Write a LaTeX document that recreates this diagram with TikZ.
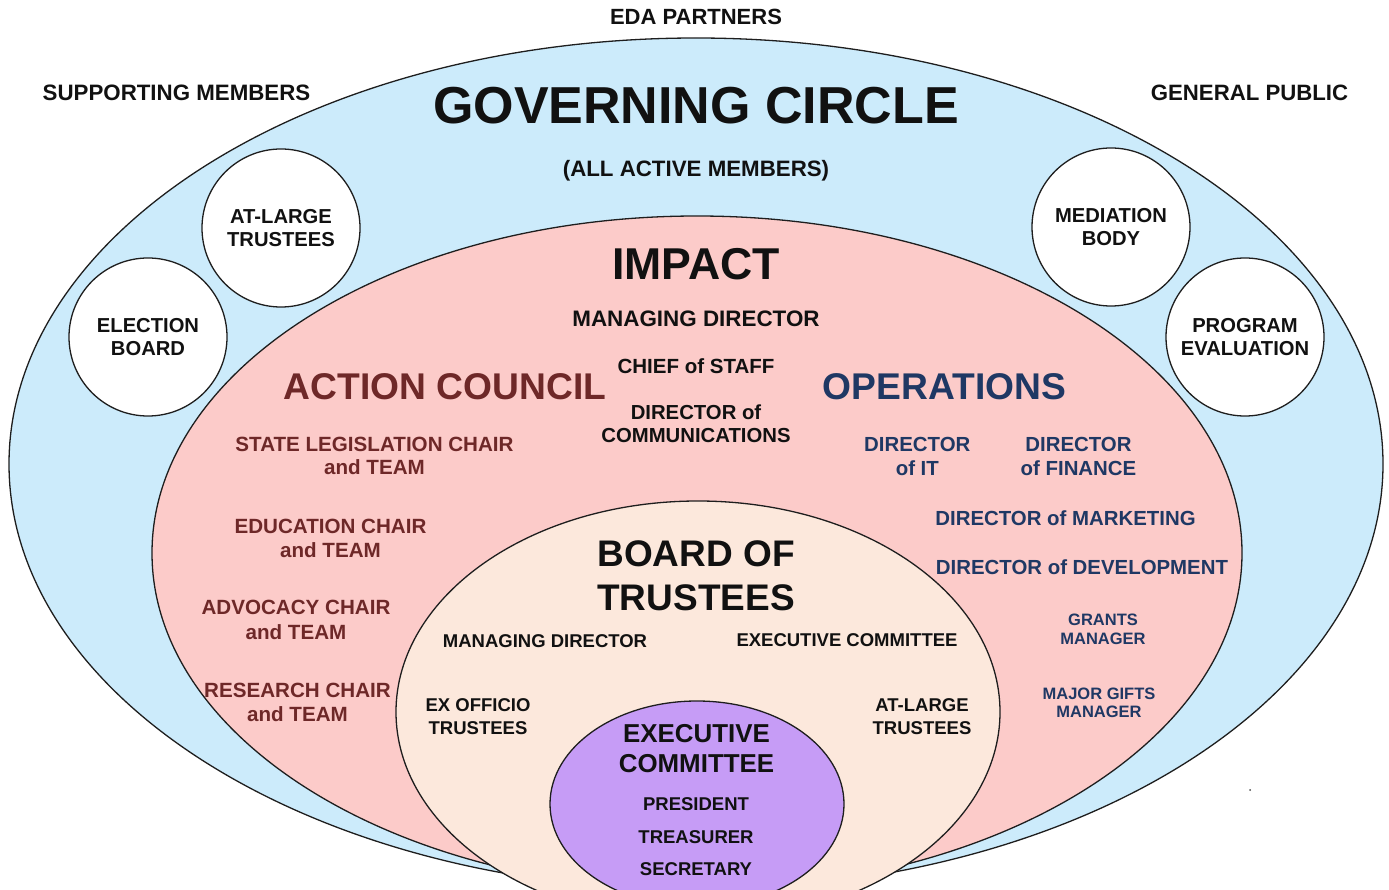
\documentclass[tikz,border=0pt]{standalone}
\usepackage{fontspec}
\setmainfont{Liberation Sans}
\usetikzlibrary{shapes.geometric}
\definecolor{govblue}{HTML}{CCEBFB}
\definecolor{impactpink}{HTML}{FCCBC9}
\definecolor{boardbeige}{HTML}{FCE8DC}
\definecolor{execpurple}{HTML}{C69CF6}
\definecolor{acbrown}{HTML}{6E2828}
\definecolor{opnavy}{HTML}{1F3864}
\definecolor{outline}{HTML}{1E1E1E}
\definecolor{ink}{HTML}{111111}
\begin{document}
\begin{tikzpicture}[x=1pt,y=-1pt,
  ring/.style={ellipse, draw=outline, line width=1.3pt, inner sep=0pt, outer sep=0pt},
  disc/.style={circle, draw=outline, line width=1.3pt, fill=white, inner sep=0pt, minimum size=158pt,
    align=center, text=ink, font=\bfseries\fontsize{20.2}{23.5}\selectfont},
  tx/.style 2 args={font=\bfseries\fontsize{#1}{#2}\selectfont, align=center, inner sep=0pt, text=ink},
  ac/.style={text=acbrown},
  op/.style={text=opnavy}]
\useasboundingbox (0,0) rectangle (1389,890);
\clip (0,0) rectangle (1389,890);
% nested ellipses
\node[ring, fill=govblue, minimum width=1374pt, minimum height=852pt] (gov) at (696,464) {};
\node[ring, fill=impactpink, minimum width=1090pt, minimum height=674pt] (impact) at (697,553) {};
\node[ring, fill=boardbeige, minimum width=604pt, minimum height=422pt] (board) at (698,712) {};
\node[ring, fill=execpurple, minimum width=294pt, minimum height=206pt] (exec) at (697,804) {};
% circles
\node[disc] (election) at (148,337) {ELECTION\\BOARD};
\node[disc] (atlarge) at (281,228) {AT-LARGE\\TRUSTEES};
\node[disc] (mediation) at (1111,227) {MEDIATION\\BODY};
\node[disc] (progeval) at (1245,337) {PROGRAM\\EVALUATION};
% outside labels
\node[tx={22}{26}] (eda) at (696,17) {EDA PARTNERS};
\node[tx={22.3}{26}] (supp) at (176.5,93) {SUPPORTING MEMBERS};
\node[tx={22.2}{26}] (pub) at (1249.5,93) {GENERAL PUBLIC};
% governing circle
\node[tx={52}{60}] (govt) at (696,106) {GOVERNING CIRCLE};
\node[tx={22.3}{26}, anchor=base] (allact) at (696,177) {(ALL ACTIVE MEMBERS)};
% impact
\node[tx={44.6}{50}] (impactt) at (696,264) {IMPACT};
\node[tx={22.4}{26}] (imd) at (696,318.7) {MANAGING DIRECTOR};
\node[tx={20.5}{24}] (cos) at (696,366) {CHIEF of STAFF};
\node[tx={20.3}{23.3}] (doc) at (696,424) {DIRECTOR of\\COMMUNICATIONS};
% action council
\node[tx={37.2}{42}, ac] (act) at (445,387) {ACTION COUNCIL};
\node[tx={20.6}{23.5}, ac] (sl) at (374.5,456) {STATE LEGISLATION CHAIR\\and TEAM};
\node[tx={20.6}{24}, ac] (ed) at (330.5,538.5) {EDUCATION CHAIR\\and TEAM};
\node[tx={20.6}{25}, ac] (adv) at (296,620) {ADVOCACY CHAIR\\and TEAM};
\node[tx={20.6}{24}, ac] (res) at (297.5,702) {RESEARCH CHAIR\\and TEAM};
% operations
\node[tx={37.2}{42}, op] (ops) at (944.5,387) {OPERATIONS};
\node[tx={20.4}{23.8}, op] (dit) at (917.3,456.4) {DIRECTOR\\of IT};
\node[tx={20.4}{23.8}, op] (dfin) at (1078.5,456.4) {DIRECTOR\\of FINANCE};
\node[tx={20.4}{24}, op] (dmkt) at (1065.5,518) {DIRECTOR of MARKETING};
\node[tx={20.4}{24}, op] (ddev) at (1082,567.5) {DIRECTOR of DEVELOPMENT};
\node[tx={16.5}{19}, op] (grants) at (1103,629) {GRANTS\\MANAGER};
\node[tx={16.5}{18}, op] (gifts) at (1099,703) {MAJOR GIFTS\\MANAGER};
% board of trustees
\node[tx={37}{44}] (bot) at (696,576) {BOARD OF\\TRUSTEES};
\node[tx={18.5}{22}] (bmd) at (545,641) {MANAGING DIRECTOR};
\node[tx={18.5}{22}] (bec) at (847,640) {EXECUTIVE COMMITTEE};
\node[tx={18.5}{23}] (exo) at (478,716.5) {EX OFFICIO\\TRUSTEES};
\node[tx={18.5}{23}] (atl) at (922,716.5) {AT-LARGE\\TRUSTEES};
% executive committee
\node[tx={25.9}{30}] (ect) at (696.5,748.3) {EXECUTIVE\\COMMITTEE};
\node[tx={18.5}{22}] (pres) at (696,804) {PRESIDENT};
\node[tx={18.5}{22}] (treas) at (696,836.7) {TREASURER};
\node[tx={18.5}{22}] (sec) at (696,869) {SECRETARY};
% stray speck
\fill[outline!80] (1250,790) circle (1pt);
\end{tikzpicture}
\end{document}
